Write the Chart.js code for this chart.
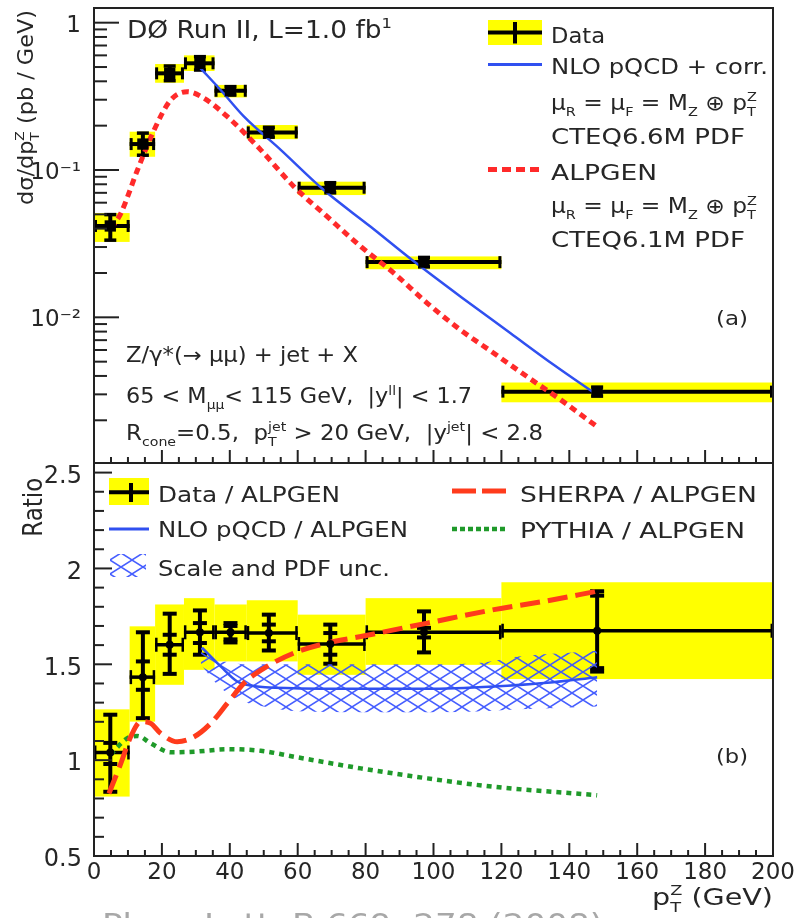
<!DOCTYPE html>
<html>
<head>
<meta charset="utf-8">
<script src="https://cdn.jsdelivr.net/npm/chart.js@4.4.1/dist/chart.umd.min.js"></script>
<style>
  html, body { margin: 0; padding: 0; background: #fff; }
  #wrap { position: relative; width: 798px; height: 918px; overflow: hidden; }
  canvas { position: absolute; left: 0; }
</style>
</head>
<body>
<div id="wrap">
  <canvas id="xsec" width="798" height="470" style="top:0px"></canvas>
  <canvas id="ratio" width="798" height="463" style="top:455px"></canvas>
</div>
<script>
// ---- measured bins (pT^Z, GeV) ----
const binLow    = [0, 10.5, 18, 26.5, 35.5, 45, 60, 80, 120];
const binHigh   = [10.5, 18, 26.5, 35.5, 45, 60, 80, 120, 200];
const binCenter = [4.8, 14.4, 22.3, 31.2, 40.2, 51.5, 69.6, 97.2, 148.2];

// ---- dsigma/dpT (pb/GeV) ----
const xsec         = [0.0417, 0.150, 0.453, 0.530, 0.345, 0.180, 0.0758, 0.0237, 0.00313];
const xsecStatLow  = [0.0334, 0.126, 0.404, 0.477, 0.323, 0.167, 0.0700, 0.0220, 0.00292];
const xsecStatHigh = [0.0498, 0.178, 0.508, 0.588, 0.368, 0.195, 0.0820, 0.0255, 0.00336];
const xsecSysLow   = [0.0325, 0.123, 0.391, 0.470, 0.311, 0.162, 0.0676, 0.0212, 0.00265];
const xsecSysHigh  = [0.0510, 0.182, 0.524, 0.600, 0.378, 0.202, 0.0833, 0.0259, 0.00361];

// NLO pQCD + corrections
const nloPt   = [31.4, 37.3, 44.2, 55.0, 67.7, 81.5, 94.3, 108.0, 122.7, 135.5, 148.2];
const nloXsec = [0.490, 0.349, 0.230, 0.137, 0.0731, 0.0412, 0.0239, 0.0138, 0.00779, 0.00474, 0.00297];

// ALPGEN
const alpgenPt   = [5, 7.9, 12.8, 17.7, 22.6, 27.5, 32.4, 39.3, 49.1, 58.9, 68.7, 78.6, 88.4, 98.2, 108, 117.8, 127.6, 137.5, 148.2];
const alpgenXsec = [0.040, 0.0508, 0.100, 0.187, 0.299, 0.340, 0.307, 0.230, 0.137, 0.0771, 0.0482, 0.0302, 0.0199, 0.01245, 0.0082, 0.0057, 0.00395, 0.00275, 0.00181];

// ---- ratios to ALPGEN ----
const ratio          = [1.040, 1.433, 1.602, 1.667, 1.667, 1.663, 1.606, 1.667, 1.675];
const ratioStatLow   = [0.980, 1.367, 1.550, 1.611, 1.630, 1.620, 1.550, 1.640, 1.480];
const ratioStatHigh  = [1.090, 1.515, 1.654, 1.715, 1.700, 1.707, 1.663, 1.690, 1.858];
const ratioTotLow    = [0.835, 1.219, 1.450, 1.550, 1.614, 1.572, 1.503, 1.562, 1.462];
const ratioTotHigh   = [1.237, 1.667, 1.764, 1.781, 1.715, 1.759, 1.707, 1.776, 1.881];
const ratioSysLow    = [0.810, 1.201, 1.393, 1.471, 1.515, 1.515, 1.445, 1.497, 1.423];
const ratioSysHigh   = [1.265, 1.698, 1.812, 1.845, 1.812, 1.834, 1.759, 1.845, 1.928];

const nloRatioPt = [31.9, 37.3, 42.2, 46.1, 58.9, 78.6, 98.2, 117.8, 132.5, 148.2];
const nloRatio   = [1.585, 1.489, 1.410, 1.389, 1.375, 1.372, 1.372, 1.384, 1.402, 1.433];

const uncPt   = [31.5, 35, 40, 45, 50, 60, 80, 100, 115, 125, 140, 148.2];
const uncHigh = [1.60, 1.53, 1.51, 1.50, 1.50, 1.50, 1.50, 1.50, 1.51, 1.54, 1.56, 1.57];
const uncLow  = [1.50, 1.42, 1.34, 1.30, 1.28, 1.255, 1.25, 1.25, 1.255, 1.265, 1.275, 1.28];

const sherpaPt    = [4.4, 7.9, 10.8, 13.8, 16.7, 19.6, 24.5, 29.5, 34.4, 39.3, 44.2, 51, 58.9, 68.7, 78.6, 98.2, 117.8, 132.5, 148.2];
const sherpaRatio = [0.826, 0.983, 1.122, 1.201, 1.192, 1.140, 1.096, 1.122, 1.192, 1.297, 1.402, 1.489, 1.559, 1.611, 1.645, 1.715, 1.785, 1.828, 1.881];

const pythiaPt    = [4.9, 9.8, 12.8, 16.7, 22.6, 29.5, 39.3, 49.1, 58.9, 78.6, 98.2, 117.8, 148.2];
const pythiaRatio = [1.030, 1.114, 1.126, 1.088, 1.041, 1.044, 1.057, 1.049, 1.018, 0.957, 0.905, 0.861, 0.817];

// ---- tick labels ----
const xTickVals     = [0, 20, 40, 60, 80, 100, 120, 140, 160, 180, 200];
const xsecTickVals  = [0.01, 0.1, 1];
const xsecTickText  = ['10\u207B\u00B2', '10\u207B\u00B9', '1'];
const ratioTickVals = [0.5, 1, 1.5, 2, 2.5];
const ratioTickText = ['0.5', '1', '1.5', '2', '2.5'];

// ---- style ----
const FAMILY = "'DejaVu Sans', sans-serif";
const INK = '#262626';
const YELLOW = '#ffff00';
const BLUE = '#3050f0';
const RED = '#ff2a2a';
const ORANGE_RED = '#ff3b1c';
const GREEN = '#1f9a2a';
const RATIO_TOP = 455; // page offset of the ratio canvas

function drawRich(ctx, segs, x, y, size, o) {
  o = o || {};
  ctx.save();
  ctx.fillStyle = o.color || INK;
  ctx.textBaseline = 'alphabetic';
  ctx.textAlign = 'left';
  ctx.translate(x, y);
  if (o.rotate) ctx.rotate(o.rotate);
  const small = size * 0.62;
  const meas = (t, s) => { ctx.font = s + 'px ' + FAMILY; return ctx.measureText(t).width; };
  let w = 0;
  for (const s of segs) {
    if (s.t !== undefined) w += meas(s.t, size);
    else w += Math.max(s.sub ? meas(s.sub, small) : 0, s.sup ? meas(s.sup, small) : 0);
  }
  const sx = o.width ? o.width / w : 1;
  ctx.scale(sx, 1);
  let cx = o.align === 'right' ? -w : 0;
  for (const s of segs) {
    if (s.t !== undefined) {
      ctx.font = size + 'px ' + FAMILY;
      ctx.fillText(s.t, cx, 0);
      cx += ctx.measureText(s.t).width;
    } else {
      ctx.font = small + 'px ' + FAMILY;
      let ww = 0;
      if (s.sub) { ctx.fillText(s.sub, cx, size * 0.30); ww = ctx.measureText(s.sub).width; }
      if (s.sup) { ctx.fillText(s.sup, cx, -size * 0.42); ww = Math.max(ww, ctx.measureText(s.sup).width); }
      cx += ww;
    }
  }
  ctx.restore();
}

function seg(ctx, x0, y0, x1, y1, w, color) {
  ctx.beginPath();
  ctx.lineWidth = w;
  ctx.strokeStyle = color || '#000';
  ctx.moveTo(x0, y0);
  ctx.lineTo(x1, y1);
  ctx.stroke();
}

function makeHatch(ctx) {
  const c = document.createElement('canvas');
  c.width = 22; c.height = 14;
  const g = c.getContext('2d');
  g.strokeStyle = 'rgba(60,85,255,0.95)';
  g.lineWidth = 1.5;
  g.beginPath();
  g.moveTo(0, 0); g.lineTo(22, 14);
  g.moveTo(0, 14); g.lineTo(22, 0);
  g.stroke();
  return ctx.createPattern(c, 'repeat');
}

function pts(xs, ys) { return xs.map((x, i) => ({ x: x, y: ys[i] })); }

function clipArea(ctx, a) {
  ctx.beginPath();
  ctx.rect(a.left, a.top, a.right - a.left, a.bottom - a.top);
  ctx.clip();
}

function drawXTicks(chart) {
  const ctx = chart.ctx, a = chart.chartArea, xs = chart.scales.x;
  for (let v = 5; v < 200; v += 5) {
    const px = xs.getPixelForValue(v);
    const len = v % 20 === 0 ? 13 : 6;
    seg(ctx, px, a.bottom, px, a.bottom - len, 2, '#222');
  }
}

// ---------------- cross-section panel ----------------
const xsecDecor = {
  id: 'xsecDecor',
  beforeDatasetsDraw(chart) {
    const ctx = chart.ctx, a = chart.chartArea;
    const X = v => chart.scales.x.getPixelForValue(v);
    const Y = v => chart.scales.y.getPixelForValue(v);
    ctx.save();
    clipArea(ctx, a);
    ctx.fillStyle = YELLOW;
    binLow.forEach((lo, i) => {
      const y0 = Y(xsecSysHigh[i]), y1 = Y(xsecSysLow[i]);
      ctx.fillRect(X(lo), y0, X(binHigh[i]) - X(lo), y1 - y0);
    });
    binLow.forEach((lo, i) => {
      const y = Y(xsec[i]), x0 = X(lo), x1 = X(binHigh[i]), xc = X(binCenter[i]);
      seg(ctx, x0, y, x1, y, 4);
      seg(ctx, x0 + 1.5, y - 6, x0 + 1.5, y + 6, 3);
      seg(ctx, x1 - 1.5, y - 6, x1 - 1.5, y + 6, 3);
      const yl = Y(xsecStatLow[i]), yh = Y(xsecStatHigh[i]);
      seg(ctx, xc, yl, xc, yh, 4);
      seg(ctx, xc - 6, yl, xc + 6, yl, 3.5);
      seg(ctx, xc - 6, yh, xc + 6, yh, 3.5);
    });
    ctx.restore();
  },
  afterDraw(chart) {
    const ctx = chart.ctx, a = chart.chartArea, ys = chart.scales.y;
    ctx.save();
    // frame
    ctx.lineWidth = 2;
    ctx.strokeStyle = '#222';
    ctx.strokeRect(a.left, a.top, a.right - a.left, a.bottom - a.top);
    // log ticks on the left edge
    for (let d = -3; d <= 0; d++) {
      for (let k = 1; k <= 9; k++) {
        const v = k * Math.pow(10, d);
        if (v < ys.min || v > ys.max) continue;
        const py = ys.getPixelForValue(v);
        seg(ctx, a.left, py, a.left + (k === 1 ? 25 : 13), py, 2, '#222');
      }
    }
    drawXTicks(chart);

    // title
    drawRich(ctx, [{ t: 'D\u00D8 Run II, L=1.0 fb' }, { sup: '1' }], 127, 38.3, 24, { width: 265 });

    // legend
    ctx.fillStyle = YELLOW;
    ctx.fillRect(488, 20, 54, 25);
    seg(ctx, 488, 32.5, 542, 32.5, 4);
    seg(ctx, 515, 22, 515, 43.5, 4);
    seg(ctx, 488, 64.5, 542, 64.5, 3, BLUE);
    ctx.save();
    ctx.setLineDash([9, 5]);
    seg(ctx, 488, 169.5, 542, 169.5, 5, RED);
    ctx.restore();
    drawRich(ctx, [{ t: 'Data' }], 551, 43.3, 21, { width: 54 });
    drawRich(ctx, [{ t: 'NLO pQCD + corr.' }], 551, 74, 21, { width: 217 });
    const scaleSegs = [{ t: '\u03BC' }, { sub: 'R' }, { t: ' = \u03BC' }, { sub: 'F' }, { t: ' = M' }, { sub: 'Z' }, { t: ' \u2295 p' }, { sub: 'T', sup: 'Z' }];
    drawRich(ctx, scaleSegs, 551, 110, 20.5, { width: 206 });
    drawRich(ctx, [{ t: 'CTEQ6.6M PDF' }], 551, 144, 21, { width: 194 });
    drawRich(ctx, [{ t: 'ALPGEN' }], 551, 180, 21, { width: 106 });
    drawRich(ctx, scaleSegs, 551, 213.3, 20.5, { width: 206 });
    drawRich(ctx, [{ t: 'CTEQ6.1M PDF' }], 551, 246.7, 21, { width: 194 });

    drawRich(ctx, [{ t: '(a)' }], 716, 325, 19, { width: 32 });

    // selection text
    drawRich(ctx, [{ t: 'Z/\u03B3*(\u2192 \u03BC\u03BC) + jet + X' }], 126, 361.7, 20.5, { width: 232 });
    drawRich(ctx, [{ t: '65 < M' }, { sub: '\u03BC\u03BC' }, { t: '< 115 GeV,  |y' }, { sup: 'll' }, { t: '| < 1.7' }], 126, 403.3, 20.5, { width: 346 });
    drawRich(ctx, [{ t: 'R' }, { sub: 'cone' }, { t: '=0.5,  p' }, { sub: 'T', sup: 'jet' }, { t: ' > 20 GeV,  |y' }, { sup: 'jet' }, { t: '| < 2.8' }], 126, 440, 20.5, { width: 417 });

    // y-axis title
    drawRich(ctx, [{ t: 'd\u03C3/dp' }, { sub: 'T', sup: 'Z' }, { t: ' (pb / GeV)' }], 33, 205, 21, { width: 195, rotate: -Math.PI / 2 });
    ctx.restore();
  }
};

new Chart(document.getElementById('xsec'), {
  type: 'scatter',
  data: {
    datasets: [
      { label: 'Data', data: pts(binCenter, xsec), pointStyle: 'rect', pointRadius: 8, backgroundColor: '#000', borderColor: '#000', borderWidth: 0 },
      { label: 'NLO pQCD + corr.', data: pts(nloPt, nloXsec), showLine: true, pointRadius: 0, borderColor: BLUE, borderWidth: 2.5, cubicInterpolationMode: 'monotone' },
      { label: 'ALPGEN', data: pts(alpgenPt, alpgenXsec), showLine: true, pointRadius: 0, borderColor: RED, borderWidth: 5, borderDash: [7, 5], cubicInterpolationMode: 'monotone' }
    ]
  },
  options: {
    responsive: false, animation: false, devicePixelRatio: 1,
    layout: { autoPadding: false, padding: { left: 0, right: 25, top: 8, bottom: 7 } },
    plugins: { legend: { display: false }, tooltip: { enabled: false } },
    scales: {
      x: { type: 'linear', min: 0, max: 200, display: false },
      y: {
        type: 'logarithmic', min: 0.001026, max: 1.258, position: 'left',
        afterBuildTicks: s => { s.ticks = xsecTickVals.map(v => ({ value: v })); },
        afterFit: s => { s.width = 94; s.paddingTop = 0; s.paddingBottom = 0; },
        grid: { display: false }, border: { display: false },
        ticks: {
          autoSkip: false, padding: 5, labelOffset: 3, color: INK,
          font: { family: FAMILY, size: 23 },
          callback: v => { const i = xsecTickVals.findIndex(t => Math.abs(t - v) / t < 1e-6); return i >= 0 ? xsecTickText[i] : ''; }
        }
      }
    }
  },
  plugins: [xsecDecor]
});

// ---------------- ratio panel ----------------
const ratioCanvas = document.getElementById('ratio');
const hatch = makeHatch(ratioCanvas.getContext('2d'));

const ratioDecor = {
  id: 'ratioDecor',
  beforeDatasetsDraw(chart) {
    const ctx = chart.ctx, a = chart.chartArea;
    const X = v => chart.scales.x.getPixelForValue(v);
    const Y = v => chart.scales.y.getPixelForValue(v);
    ctx.save();
    clipArea(ctx, a);
    ctx.fillStyle = YELLOW;
    binLow.forEach((lo, i) => {
      const y0 = Y(ratioSysHigh[i]), y1 = Y(ratioSysLow[i]);
      ctx.fillRect(X(lo), y0, X(binHigh[i]) - X(lo), y1 - y0);
    });
    binLow.forEach((lo, i) => {
      const y = Y(ratio[i]), x0 = X(lo), x1 = X(binHigh[i]), xc = X(binCenter[i]);
      seg(ctx, x0, y, x1, y, 3.5);
      seg(ctx, x0 + 1.2, y - 7, x0 + 1.2, y + 7, 2.5);
      seg(ctx, x1 - 1.2, y - 7, x1 - 1.2, y + 7, 2.5);
      const tl = Y(ratioTotLow[i]), th = Y(ratioTotHigh[i]);
      const sl = Y(ratioStatLow[i]), sh = Y(ratioStatHigh[i]);
      seg(ctx, xc, tl, xc, th, 4);
      seg(ctx, xc - 7, tl, xc + 7, tl, 4);
      seg(ctx, xc - 7, th, xc + 7, th, 4);
      seg(ctx, xc - 7, sl, xc + 7, sl, 4);
      seg(ctx, xc - 7, sh, xc + 7, sh, 4);
    });
    ctx.restore();
  },
  afterDraw(chart) {
    const ctx = chart.ctx, a = chart.chartArea, ys = chart.scales.y;
    ctx.save();
    ctx.lineWidth = 2;
    ctx.strokeStyle = '#222';
    ctx.strokeRect(a.left, a.top, a.right - a.left, a.bottom - a.top);
    for (let k = 5; k <= 25; k++) {
      const py = ys.getPixelForValue(k / 10);
      seg(ctx, a.left, py, a.left + (k % 5 === 0 ? 18 : 10), py, 2, '#222');
    }
    drawXTicks(chart);

    ctx.translate(0, -RATIO_TOP);
    // legend
    ctx.fillStyle = YELLOW;
    ctx.fillRect(109, 478, 40, 27);
    seg(ctx, 109, 492.3, 149, 492.3, 4);
    seg(ctx, 131, 483, 131, 502, 4);
    seg(ctx, 109, 529, 149, 529, 3, BLUE);
    ctx.fillStyle = hatch;
    ctx.fillRect(110, 554, 36, 23);
    ctx.save();
    ctx.setLineDash([24, 6]);
    seg(ctx, 452, 491, 508, 491, 5, ORANGE_RED);
    ctx.setLineDash([5, 3]);
    seg(ctx, 452, 529, 508, 529, 4.5, GREEN);
    ctx.restore();
    drawRich(ctx, [{ t: 'Data / ALPGEN' }], 158, 501.7, 21, { width: 182 });
    drawRich(ctx, [{ t: 'NLO pQCD / ALPGEN' }], 158, 536.7, 21, { width: 250 });
    drawRich(ctx, [{ t: 'Scale and PDF unc.' }], 158, 576, 21, { width: 232 });
    drawRich(ctx, [{ t: 'SHERPA / ALPGEN' }], 520, 501.7, 21, { width: 237 });
    drawRich(ctx, [{ t: 'PYTHIA / ALPGEN' }], 520, 538.3, 21, { width: 225 });
    drawRich(ctx, [{ t: '(b)' }], 716, 763, 19, { width: 32 });

    // axis titles
    drawRich(ctx, [{ t: 'Ratio' }], 41.5, 536.7, 26, { width: 59, rotate: -Math.PI / 2 });
    drawRich(ctx, [{ t: 'p' }, { sub: 'T', sup: 'Z' }, { t: ' (GeV)' }], 773, 905, 23, { width: 121, align: 'right' });

    // reference line at the foot of the page
    drawRich(ctx, [{ t: 'Phys. Lett. B 669, 278 (2008)' }], 102, 935, 30, { width: 501, color: '#a8a8a8' });
    ctx.restore();
  }
};

new Chart(ratioCanvas, {
  type: 'scatter',
  data: {
    datasets: [
      { label: 'Data / ALPGEN', data: pts(binCenter, ratio), pointStyle: 'circle', pointRadius: 4, backgroundColor: '#000', borderColor: '#000', borderWidth: 0 },
      { label: 'SHERPA / ALPGEN', data: pts(sherpaPt, sherpaRatio), showLine: true, pointRadius: 0, borderColor: ORANGE_RED, borderWidth: 5, borderDash: [20, 8], cubicInterpolationMode: 'monotone' },
      { label: 'PYTHIA / ALPGEN', data: pts(pythiaPt, pythiaRatio), showLine: true, pointRadius: 0, borderColor: GREEN, borderWidth: 4.5, borderDash: [5, 5], cubicInterpolationMode: 'monotone' },
      { label: 'NLO pQCD / ALPGEN', data: pts(nloRatioPt, nloRatio), showLine: true, pointRadius: 0, borderColor: BLUE, borderWidth: 2.5, cubicInterpolationMode: 'monotone' },
      { label: 'Scale and PDF unc.', data: pts(uncPt, uncHigh), showLine: true, pointRadius: 0, borderWidth: 0, borderColor: 'rgba(0,0,0,0)', backgroundColor: hatch, fill: '+1', cubicInterpolationMode: 'monotone' },
      { label: 'unc-low', data: pts(uncPt, uncLow), showLine: true, pointRadius: 0, borderWidth: 0, borderColor: 'rgba(0,0,0,0)', cubicInterpolationMode: 'monotone' }
    ]
  },
  options: {
    responsive: false, animation: false, devicePixelRatio: 1,
    layout: { autoPadding: false, padding: { left: 0, right: 25, top: 8, bottom: 0 } },
    plugins: { legend: { display: false }, tooltip: { enabled: false } },
    scales: {
      x: {
        type: 'linear', min: 0, max: 200, position: 'bottom',
        afterBuildTicks: s => { s.ticks = xTickVals.map(v => ({ value: v })); },
        afterFit: s => { s.height = 62; s.paddingLeft = 0; s.paddingRight = 0; },
        grid: { display: false }, border: { display: false },
        ticks: { autoSkip: false, maxRotation: 0, padding: -5, color: INK, font: { family: FAMILY, size: 23 }, callback: v => String(v) }
      },
      y: {
        type: 'linear', min: 0.5, max: 2.55, position: 'left',
        afterBuildTicks: s => { s.ticks = ratioTickVals.map(v => ({ value: v })); },
        afterFit: s => { s.width = 94; s.paddingTop = 0; s.paddingBottom = 0; },
        grid: { display: false }, border: { display: false },
        ticks: {
          autoSkip: false, padding: 4, labelOffset: 4, color: INK,
          font: { family: FAMILY, size: 24 },
          callback: v => { const i = ratioTickVals.findIndex(t => Math.abs(t - v) < 1e-6); return i >= 0 ? ratioTickText[i] : ''; }
        }
      }
    }
  },
  plugins: [ratioDecor]
});
</script>
</body>
</html>
